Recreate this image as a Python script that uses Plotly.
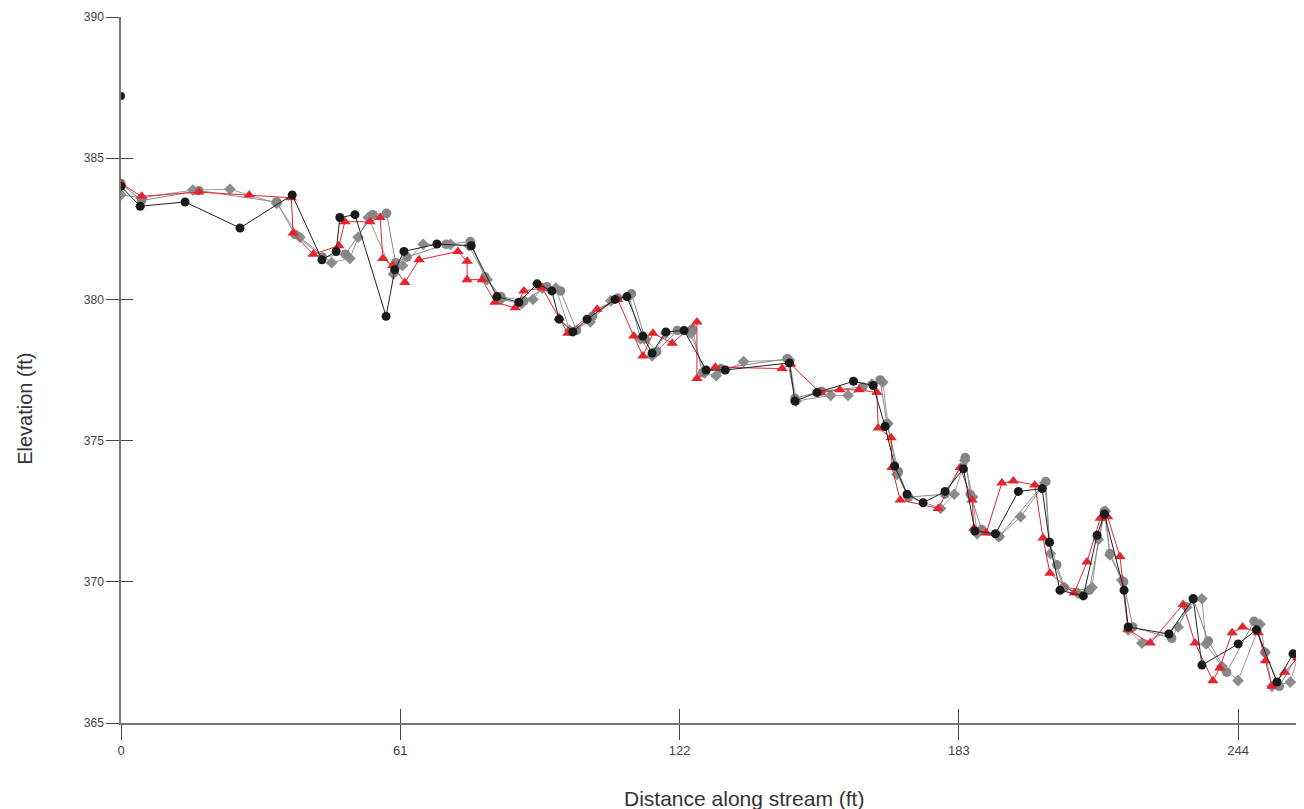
import plotly.graph_objects as go

# ---- data ----
x_ticks = [0, 61, 122, 183, 244]
y_ticks = [365, 370, 375, 380, 385, 390]

outlier_x = [0]
outlier_y = [387.2]

black_x = [0, 4.2, 14, 26, 37.4, 43.9, 47, 47.8, 51.1, 57.9, 59.8, 61.8, 69, 76.5, 82.1,
           86.9, 90.9, 94.1, 95.7, 98.7, 101.8, 107.9, 110.5, 114, 116, 119, 123, 127.8, 132, 146,
           147.2, 152, 160, 164.3, 166.9, 169, 171.7, 175.2, 180, 184, 186.5, 191, 196, 201.2, 202.8,
           205.1, 210.2, 213.2, 214.8, 219.1, 220, 228.9, 234.2, 236.1, 244, 248, 252.5, 256, 258.5]
black_y = [384.0, 383.3, 383.45, 382.53, 383.7, 381.4, 381.7, 382.9, 383.0, 379.4, 381.05, 381.7, 381.96, 381.9, 380.1,
           379.9, 380.55, 380.3, 379.3, 378.85, 379.3, 380.0, 380.1, 378.7, 378.1, 378.85, 378.9, 377.5, 377.5, 377.75,
           376.4, 376.7, 377.1, 376.95, 375.5, 374.1, 373.1, 372.8, 373.2, 374.0, 371.8, 371.7, 373.2, 373.3, 371.4,
           369.7, 369.5, 371.65, 372.4, 369.7, 368.4, 368.15, 369.4, 367.05, 367.8, 368.3, 366.45, 367.45, 367.2]

red_x = [0, 4.5, 17, 28, 37.2, 37.6, 42, 47.6, 48.9, 54.4, 56.6, 57.2, 59.4, 62, 65.1,
         73.6, 75.6, 75.6, 78.9, 81.7, 86.1, 88, 92, 95.7, 97.6, 104, 108.5, 112, 114, 116.2,
         120.4, 125.8, 125.8, 129.8, 144.4, 146.3, 152.7, 157, 161.2, 165.1, 165.4, 168.2, 168.4, 170.2, 178.5,
         183.3, 185.9, 186.3, 189, 192.4, 194.9, 199.6, 201.4, 202.9, 208.2, 211, 213.9, 215.5, 218.2, 220,
         224.8, 232, 234.6, 238.5, 240, 242.7, 245, 248.4, 250, 251.4, 254.2, 257]
red_y = [384.1, 383.65, 383.8, 383.7, 383.6, 382.35, 381.6, 381.9, 382.75, 382.75, 382.9, 381.45, 381.2, 380.6, 381.4,
         381.7, 381.35, 380.7, 380.7, 379.9, 379.7, 380.3, 380.4, 379.35, 378.8, 379.65, 380.0, 378.7, 378.0, 378.8,
         378.45, 379.2, 377.2, 377.6, 377.55, 377.7, 376.7, 376.8, 376.8, 376.7, 375.45, 375.1, 374.05, 372.9, 372.6,
         374.05, 372.9, 371.9, 371.73, 373.5, 373.57, 373.43, 371.55, 370.3, 369.6, 370.7, 372.25, 372.3, 370.9, 368.3,
         367.83, 369.2, 367.83, 366.5, 366.95, 368.2, 368.4, 368.2, 367.2, 366.3, 366.8, 367.3]

gdia_x = [0, 4.5, 15.7, 23.8, 34, 39.1, 46, 50, 51.8, 54, 59.5, 61.5, 66, 72, 76,
          80, 83, 87.5, 90, 92, 95, 98, 102.5, 107, 111, 113.5, 116, 119, 124.5, 127.5,
          130, 136, 146, 147.5, 155, 158.8, 164, 166.4, 167.5, 169.5, 172, 179, 182, 184.3, 186,
          187, 191.8, 196.5, 201.8, 203, 206, 209, 212.1, 213.5, 215, 216, 218.6, 220, 223, 230.9,
          232.8, 236.1, 237, 240.5, 244, 248.8, 249.9, 251.4, 255.4, 258]
gdia_y = [383.7, 383.6, 383.87, 383.9, 383.4, 382.2, 381.3, 381.45, 382.2, 382.9, 380.9, 381.2, 381.95, 381.95, 381.9,
          380.7, 380.0, 379.85, 380.0, 380.4, 380.4, 378.9, 379.2, 379.95, 380.1, 378.6, 378.0, 378.8, 378.8, 377.4,
          377.3, 377.8, 377.85, 376.4, 376.6, 376.6, 377.0, 377.07, 375.6, 373.8, 373.0, 372.6, 373.1, 374.3, 373.0,
          371.7, 371.6, 372.3, 373.5, 371.0, 369.8, 369.6, 369.8, 371.5, 372.5, 370.95, 370.06, 368.3, 367.83, 368.4,
          369.1, 369.4, 367.8, 367.0, 366.5, 368.5, 367.5, 366.3, 366.45, 367.85]

gcir_x = [0, 4.5, 17, 34, 38, 44, 49, 55, 58, 60, 62.5, 71, 76.3, 79.5, 83,
          88, 93, 96, 99.5, 103, 108.5, 111.5, 114.5, 117, 121.5, 124.8, 127, 131, 145.5, 147.2,
          153, 162, 165.8, 167.3, 169.8, 172, 180, 184.4, 185.5, 188, 191.8, 202, 202.8, 204.4, 206,
          211.5, 214.8, 216, 219, 221, 229.5, 234.2, 237.5, 241.5, 247.5, 249.9, 253, 257]
gcir_y = [384.1, 383.5, 383.85, 383.45, 382.3, 381.5, 381.6, 383.0, 383.05, 381.3, 381.5, 381.95, 382.05, 380.8, 380.1,
          379.95, 380.45, 380.3, 378.9, 379.4, 380.05, 380.2, 378.6, 378.15, 378.9, 378.95, 377.4, 377.55, 377.9, 376.5,
          376.75, 376.9, 377.15, 375.6, 373.9, 373.0, 373.1, 374.4, 373.1, 371.85, 371.6, 373.55, 371.4, 370.6, 369.8,
          369.7, 372.5, 371.0, 370.0, 368.4, 368.0, 369.4, 367.9, 366.8, 368.6, 367.5, 366.3, 367.4]

FONT = "Liberation Sans, Arial, sans-serif"

fig = go.Figure()

fig.add_trace(go.Scatter(x=gdia_x, y=gdia_y, mode="lines+markers",
                         line=dict(color="#9a9a9a", width=1),
                         marker=dict(symbol="diamond", size=9, color="#8c8c8c")))
fig.add_trace(go.Scatter(x=gcir_x, y=gcir_y, mode="lines+markers",
                         line=dict(color="#8a8a8a", width=1),
                         marker=dict(symbol="circle", size=9.5, color="#858585")))
fig.add_trace(go.Scatter(x=red_x, y=red_y, mode="lines+markers",
                         line=dict(color="#e3262e", width=1),
                         marker=dict(symbol="triangle-up", size=10, color="#e3262e")))
fig.add_trace(go.Scatter(x=black_x, y=black_y, mode="lines+markers",
                         line=dict(color="#222222", width=1),
                         marker=dict(symbol="circle", size=9, color="#1a1a1a")))
fig.add_trace(go.Scatter(x=outlier_x, y=outlier_y, mode="markers",
                         marker=dict(symbol="circle", size=8, color="#1a1a1a")))
# helper trace so the overlay axes (inner tick halves) are drawn
fig.add_trace(go.Scatter(x=[None], y=[None], xaxis="x2", yaxis="y2", mode="markers",
                         hoverinfo="skip"))

# page body has an 8px margin: keep figure inside the 1304x809 window
fig.update_layout(
    width=1296, height=801,
    margin=dict(l=113, r=0, t=9, b=86),
    paper_bgcolor="white", plot_bgcolor="white",
    showlegend=False,
    font=dict(family=FONT, size=13, color="#444444"),
    xaxis=dict(range=[0, 258.4], tickvals=x_ticks, ticktext=[str(v) for v in x_ticks],
               showgrid=False, zeroline=False, showline=True, linecolor="#777777", linewidth=1.5,
               ticks="outside", ticklen=15, tickcolor="#444444", tickwidth=1,
               tickfont=dict(size=13, color="#444444")),
    yaxis=dict(range=[365, 390], tickvals=y_ticks, ticktext=[str(v) for v in y_ticks],
               showgrid=False, zeroline=False, showline=True, linecolor="#777777", linewidth=1.5,
               ticks="outside", ticklen=13, tickcolor="#444444", tickwidth=1,
               tickfont=dict(size=12, color="#444444")),
    xaxis2=dict(overlaying="x", matches="x", anchor="y2", side="bottom", tickvals=x_ticks,
                showticklabels=False, showgrid=False, zeroline=False, showline=False,
                ticks="inside", ticklen=14, tickcolor="#444444", tickwidth=1),
    yaxis2=dict(overlaying="y", matches="y", anchor="x2", side="left", tickvals=y_ticks,
                showticklabels=False, showgrid=False, zeroline=False, showline=False,
                ticks="inside", ticklen=12, tickcolor="#444444", tickwidth=1),
    annotations=[
        dict(text="Distance along stream (ft)", xref="paper", yref="paper",
             x=0.5266, y=0, yshift=-75, xanchor="center", yanchor="middle",
             showarrow=False, font=dict(family=FONT, size=21, color="#333333")),
        dict(text="Elevation (ft)", xref="paper", yref="paper",
             x=0, xshift=-96, y=0.445, xanchor="center", yanchor="middle", textangle=-90,
             showarrow=False, font=dict(family=FONT, size=20, color="#333333")),
    ],
)

fig.write_html("out.html")
